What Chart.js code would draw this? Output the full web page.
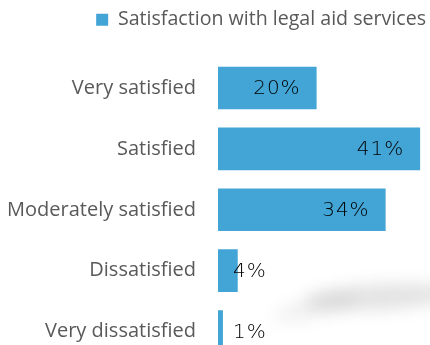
<!DOCTYPE html>
<html>
<head>
<meta charset="utf-8">
<script src="https://cdn.jsdelivr.net/npm/chart.js@4.4.1/dist/chart.umd.min.js"></script>
<style>
  html, body { margin: 0; padding: 0; background: #fff; overflow: hidden; }
  #wrap { position: relative; width: 430px; height: 345px; overflow: hidden; }
  #chart { display: block; }
  /* soft grey smudge lying over the lower right corner */
  .smudge {
    position: absolute;
    left: 305px; top: 284px;
    width: 150px; height: 26px;
    background: rgba(0, 0, 0, 0.11);
    border-radius: 50%;
    filter: blur(8px);
    transform: rotate(-3deg);
  }
  .smudge.tail {
    left: 272px; top: 298px;
    width: 85px; height: 20px;
    background: rgba(0, 0, 0, 0.06);
    transform: rotate(-14deg);
  }
</style>
</head>
<body>
<div id="wrap">
  <canvas id="chart" width="430" height="363"></canvas>
  <div class="smudge"></div>
  <div class="smudge tail"></div>
</div>
<script>
const categories = ["Very satisfied", "Satisfied", "Moderately satisfied", "Dissatisfied", "Very dissatisfied"];
const satisfaction = [20, 41, 34, 4, 1];
const seriesLabel = "Satisfaction with legal aid services";

// percentage text drawn inside the end of each bar, pushed out for tiny bars
const valueLabels = {
  id: "valueLabels",
  afterDatasetsDraw(chart) {
    const ctx = chart.ctx;
    const meta = chart.getDatasetMeta(0);
    ctx.save();
    ctx.font = "300 20px 'DejaVu Sans'";
    ctx.fillStyle = "#000";
    ctx.textAlign = "right";
    ctx.textBaseline = "middle";
    ctx.letterSpacing = "1px";
    meta.data.forEach((bar, i) => {
      const text = satisfaction[i] + "%";
      const w = ctx.measureText(text).width;
      const x = Math.max(bar.x - 16, bar.base + 15 + w);
      ctx.fillText(text, x, bar.y + 1);
    });
    ctx.restore();
  }
};

new Chart(document.getElementById("chart"), {
  type: "bar",
  data: {
    labels: categories,
    datasets: [{
      label: seriesLabel,
      data: satisfaction,
      backgroundColor: "#43a5d6",
      borderWidth: 0,
      barPercentage: 0.7,
      categoryPercentage: 1.0
    }]
  },
  options: {
    indexAxis: "y",
    responsive: false,
    animation: false,
    layout: { padding: { top: 6, left: 3, right: 0, bottom: 1 } },
    scales: {
      x: {
        position: "top",
        min: 0,
        max: 43,
        grid: { display: false },
        border: { display: false },
        ticks: { display: false },
        afterFit: (scale) => { scale.height = 18; }
      },
      y: {
        grid: { display: false },
        border: { display: false },
        ticks: {
          color: "#595959",
          padding: 14,
          font: { family: "'Open Sans'", size: 20 }
        },
        afterFit: (scale) => {
          scale.width = 215;
          // no extra room above/below for the first and last labels
          scale.paddingTop = 0;
          scale.paddingBottom = 0;
        }
      }
    },
    plugins: {
      legend: {
        position: "top",
        align: "end",
        labels: {
          boxWidth: 12,
          boxHeight: 12,
          padding: 4,
          color: "#595959",
          font: { family: "'Open Sans'", size: 19.6 }
        }
      },
      tooltip: { enabled: false }
    }
  },
  plugins: [valueLabels]
});
</script>
</body>
</html>
